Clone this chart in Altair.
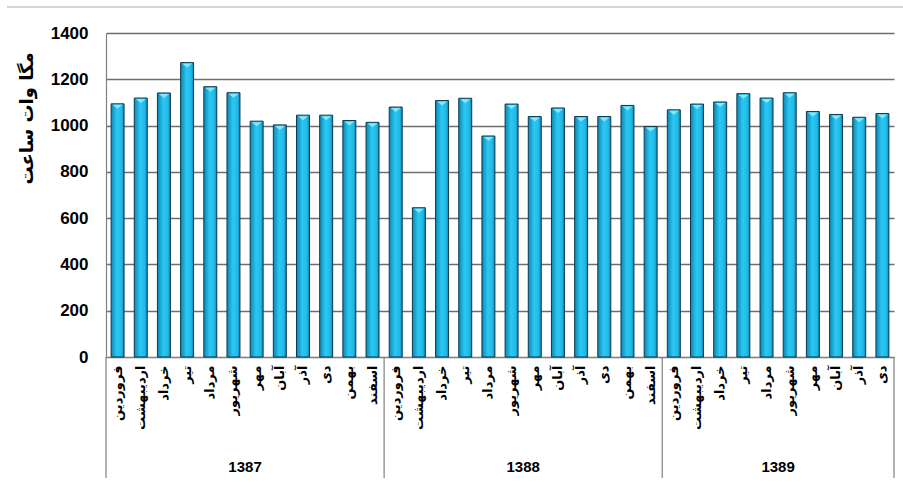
import altair as alt
import pandas as pd

years = ["1387", "1388", "1389"]
months_1387 = ["فروردین", "اردیبهشت", "خرداد", "تیر", "مرداد", "شهریور",
               "مهر", "آبان", "آذر", "دی", "بهمن", "اسفند"]
months_1388 = ["فروردین", "اردیبهشت", "خرداد", "تیر", "مرداد", "شهریور",
               "مهر", "آبان", "آذر", "دی", "بهمن", "اسفند"]
months_1389 = ["فروردین", "اردیبهشت", "خرداد", "تیر", "مرداد", "شهریور",
               "مهر", "آبان", "آذر", "دی"]
values_1387 = [1094, 1119, 1141, 1272, 1168, 1142, 1019, 1003, 1045, 1045, 1022, 1014]
values_1388 = [1080, 645, 1108, 1118, 955, 1093, 1039, 1076, 1039, 1039, 1087, 996]
values_1389 = [1068, 1093, 1102, 1138, 1119, 1142, 1061, 1048, 1036, 1052]
y_ticks = [0, 200, 400, 600, 800, 1000, 1200, 1400]
y_title = "مگا وات ساعت"

month_lists = [months_1387, months_1388, months_1389]
value_lists = [values_1387, values_1388, values_1389]

rows = []
for yr, ms, vs in zip(years, month_lists, value_lists):
    for m, v in zip(ms, vs):
        rows.append({"key": f"{yr}|{m}", "year": yr, "month": m, "value": v})
df = pd.DataFrame(rows)
keys = list(df["key"])

W, H = 788, 324
step = W / len(keys)
half = step / 2

year_rows = []
first_rows = []
for yr, ms in zip(years, month_lists):
    mid_idx = len(ms) // 2 - 1
    year_rows.append({"year": yr, "key": f"{yr}|{ms[mid_idx]}"})
    first_rows.append({"key": f"{yr}|{ms[0]}"})
year_df = pd.DataFrame(year_rows)
first_df = pd.DataFrame(first_rows)
last_df = pd.DataFrame([{"key": keys[-1]}])

FA = "DejaVu Sans"
NUM = "Liberation Sans"

xscale = alt.Scale(domain=keys, paddingInner=0.44, paddingOuter=0.22)

x_enc = alt.X(
    "key:N", sort=keys, scale=xscale,
    axis=alt.Axis(
        title=None, labelAngle=270, labelExpr="split(datum.label, '|')[1]",
        labelFont=FA, labelFontSize=13, labelFontWeight="bold", labelColor="#000000",
        labelPadding=8, ticks=False, domainColor="#808080", domainWidth=1.2,
        labelOverlap=False, labelBound=False,
    ),
)
y_enc = alt.Y(
    "value:Q", scale=alt.Scale(domain=[0, 1400], nice=False),
    axis=alt.Axis(
        values=y_ticks, format="d", title=y_title, titleFont=FA, titleFontSize=18,
        titleFontWeight="bold", titleColor="#000000", titleX=-79, titleY=85,
        titleBaseline="middle", labelFont=NUM, labelFontSize=17,
        labelFontWeight="bold", labelColor="#000000", labelPadding=18, ticks=False,
        domainColor="#808080", domainWidth=1.2, gridColor="#6e6e6e", gridWidth=1.3,
    ),
)

grad = alt.Gradient(
    gradient="linear", x1=0, x2=1, y1=0, y2=0,
    stops=[
        alt.GradientStop(color="#0e86b4", offset=0),
        alt.GradientStop(color="#2ac8f2", offset=0.45),
        alt.GradientStop(color="#22bae8", offset=0.8),
        alt.GradientStop(color="#1084ad", offset=1),
    ],
)

base = alt.Chart(df)
bars = base.mark_bar(color=grad, stroke="#0b3a52", strokeWidth=1).encode(x=x_enc, y=y_enc)
tops = base.mark_point(
    shape="M-1,0L1,0L0,0.8Z", size=100, filled=True, color="#8ae6f7", opacity=1, yOffset=1
).encode(x=alt.X("key:N", sort=keys, scale=xscale), y=alt.Y("value:Q"))

sep_first = alt.Chart(first_df).mark_rule(color="#808080", strokeWidth=1.2, xOffset=-half).encode(
    x=alt.X("key:N", sort=keys, scale=xscale), y=alt.value(H), y2=alt.value(H + 121)
)
sep_last = alt.Chart(last_df).mark_rule(color="#808080", strokeWidth=1.2, xOffset=half).encode(
    x=alt.X("key:N", sort=keys, scale=xscale), y=alt.value(H), y2=alt.value(H + 121)
)
year_text = alt.Chart(year_df).mark_text(
    font=NUM, fontSize=15, fontWeight="bold", color="#000000", dx=half, baseline="middle"
).encode(x=alt.X("key:N", sort=keys, scale=xscale), y=alt.value(H + 110), text="year:N")

frame = alt.Chart(pd.DataFrame([{"a": 1}])).mark_rule(color="#c8c8c8", strokeWidth=1.5).encode(
    x=alt.value(-99), x2=alt.value(W + 9), y=alt.value(-26)
)

chart = alt.layer(bars, tops, sep_first, sep_last, year_text, frame).properties(
    width=W, height=H, autosize="none",
    padding={"left": 106, "top": 33, "right": 9, "bottom": 126},
    background="#ffffff",
).configure_view(stroke=None)

chart.save("out.html", embed_options={"renderer": "svg", "actions": False})
